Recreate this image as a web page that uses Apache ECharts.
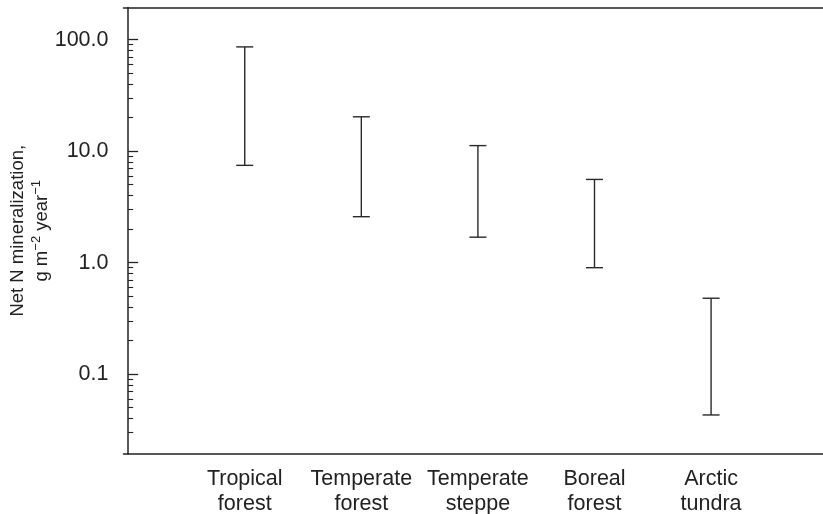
<!DOCTYPE html>
<html>
<head>
<meta charset="utf-8">
<script src="https://cdn.jsdelivr.net/npm/echarts@6/dist/echarts.min.js"></script>
<style>
  html, body { margin: 0; padding: 0; background: #fff; }
  #chart { width: 823px; height: 514px; }
</style>
</head>
<body>
<div id="chart"></div>
<script>
// biomes along the x axis
const categories = ['Tropical\nforest', 'Temperate\nforest', 'Temperate\nsteppe', 'Boreal\nforest', 'Arctic\ntundra']
const positions = [1, 2, 3, 4, 5]
// range of net N mineralization, g m-2 year-1
const lowValues = [7.45, 2.58, 1.69, 0.9, 0.043]
const highValues = [86, 20.3, 11.2, 5.57, 0.479]
// y axis ticks
const majorTicks = [0.1, 1, 10, 100]
const minorTicks = [
  0.03, 0.04, 0.05, 0.06, 0.07, 0.08, 0.09,
  0.2, 0.3, 0.4, 0.5, 0.6, 0.7, 0.8, 0.9,
  2, 3, 4, 5, 6, 7, 8, 9,
  20, 30, 40, 50, 60, 70, 80, 90,
]

const FONT = '"Liberation Sans", Arial, sans-serif'
const INK = '#222'

const chart = echarts.init(document.getElementById('chart'), null, { renderer: 'canvas' })

const barData = positions.map((p, i) => [p, lowValues[i], highValues[i]])

const yMin = 0.0192
const yMax = 194

chart.setOption({
  animation: false,
  backgroundColor: '#fff',
  grid: { left: 123.5, right: 0, top: 7.5, bottom: 60, containLabel: false, outerBoundsMode: 'none' },
  xAxis: [
    {
      type: 'value',
      position: 'bottom',
      min: -0.04,
      max: 5.96,
      axisLine: { show: true, lineStyle: { color: INK, width: 1.5 } },
      axisTick: { show: false },
      splitLine: { show: false },
      axisLabel: {
        customValues: positions,
        formatter: (v) => categories[Math.round(v) - 1] || '',
        color: INK,
        fontFamily: FONT,
        fontSize: 21.5,
        lineHeight: 25,
        margin: 13,
      },
    },
    {
      type: 'value',
      position: 'top',
      min: -0.04,
      max: 5.96,
      axisLine: { show: true, lineStyle: { color: INK, width: 1.5 } },
      axisTick: { show: false },
      axisLabel: { show: false },
      splitLine: { show: false },
    },
  ],
  yAxis: [
    {
      type: 'log',
      position: 'left',
      min: yMin,
      max: yMax,
      name: 'Net N mineralization,\n{n|g m}{sup|−2}{n| year}{sup|−1}',
      nameLocation: 'middle',
      nameRotate: 90,
      nameGap: 70,
      nameMoveOverlap: false,
      nameTextStyle: {
        color: INK,
        fontFamily: FONT,
        fontSize: 18.5,
        lineHeight: 24,
        rich: {
          n: { fontFamily: FONT, fontSize: 18.5, lineHeight: 24, color: INK },
          sup: { fontFamily: FONT, fontSize: 13, lineHeight: 14, verticalAlign: 'top', color: INK },
        },
      },
      axisLine: { show: true, lineStyle: { color: INK, width: 1.5 } },
      axisTick: {
        show: true,
        inside: true,
        length: 10,
        customValues: majorTicks,
        lineStyle: { color: INK, width: 1.3 },
      },
      axisLabel: {
        customValues: majorTicks,
        formatter: (v) => Number(v).toFixed(1),
        color: INK,
        fontFamily: FONT,
        fontSize: 21.5,
        margin: 15,
      },
      splitLine: { show: false },
    },
    {
      type: 'log',
      position: 'left',
      min: yMin,
      max: yMax,
      axisLine: { show: false },
      axisTick: {
        show: true,
        inside: true,
        length: 5,
        customValues: minorTicks,
        lineStyle: { color: INK, width: 1.1 },
      },
      axisLabel: { show: false, customValues: minorTicks },
      splitLine: { show: false },
    },
  ],
  series: [
    {
      type: 'custom',
      xAxisIndex: 0,
      yAxisIndex: 0,
      data: barData,
      renderItem: (params, api) => {
        const x = api.value(0)
        const lo = api.coord([x, api.value(1)])
        const hi = api.coord([x, api.value(2)])
        const hw = 8.5
        const style = { stroke: '#2a2a2a', lineWidth: 1.4 }
        return {
          type: 'group',
          children: [
            { type: 'line', shape: { x1: lo[0], y1: lo[1], x2: hi[0], y2: hi[1] }, style },
            { type: 'line', shape: { x1: lo[0] - hw, y1: lo[1], x2: lo[0] + hw, y2: lo[1] }, style },
            { type: 'line', shape: { x1: hi[0] - hw, y1: hi[1], x2: hi[0] + hw, y2: hi[1] }, style },
          ],
        }
      },
    },
  ],
})
</script>
</body>
</html>
